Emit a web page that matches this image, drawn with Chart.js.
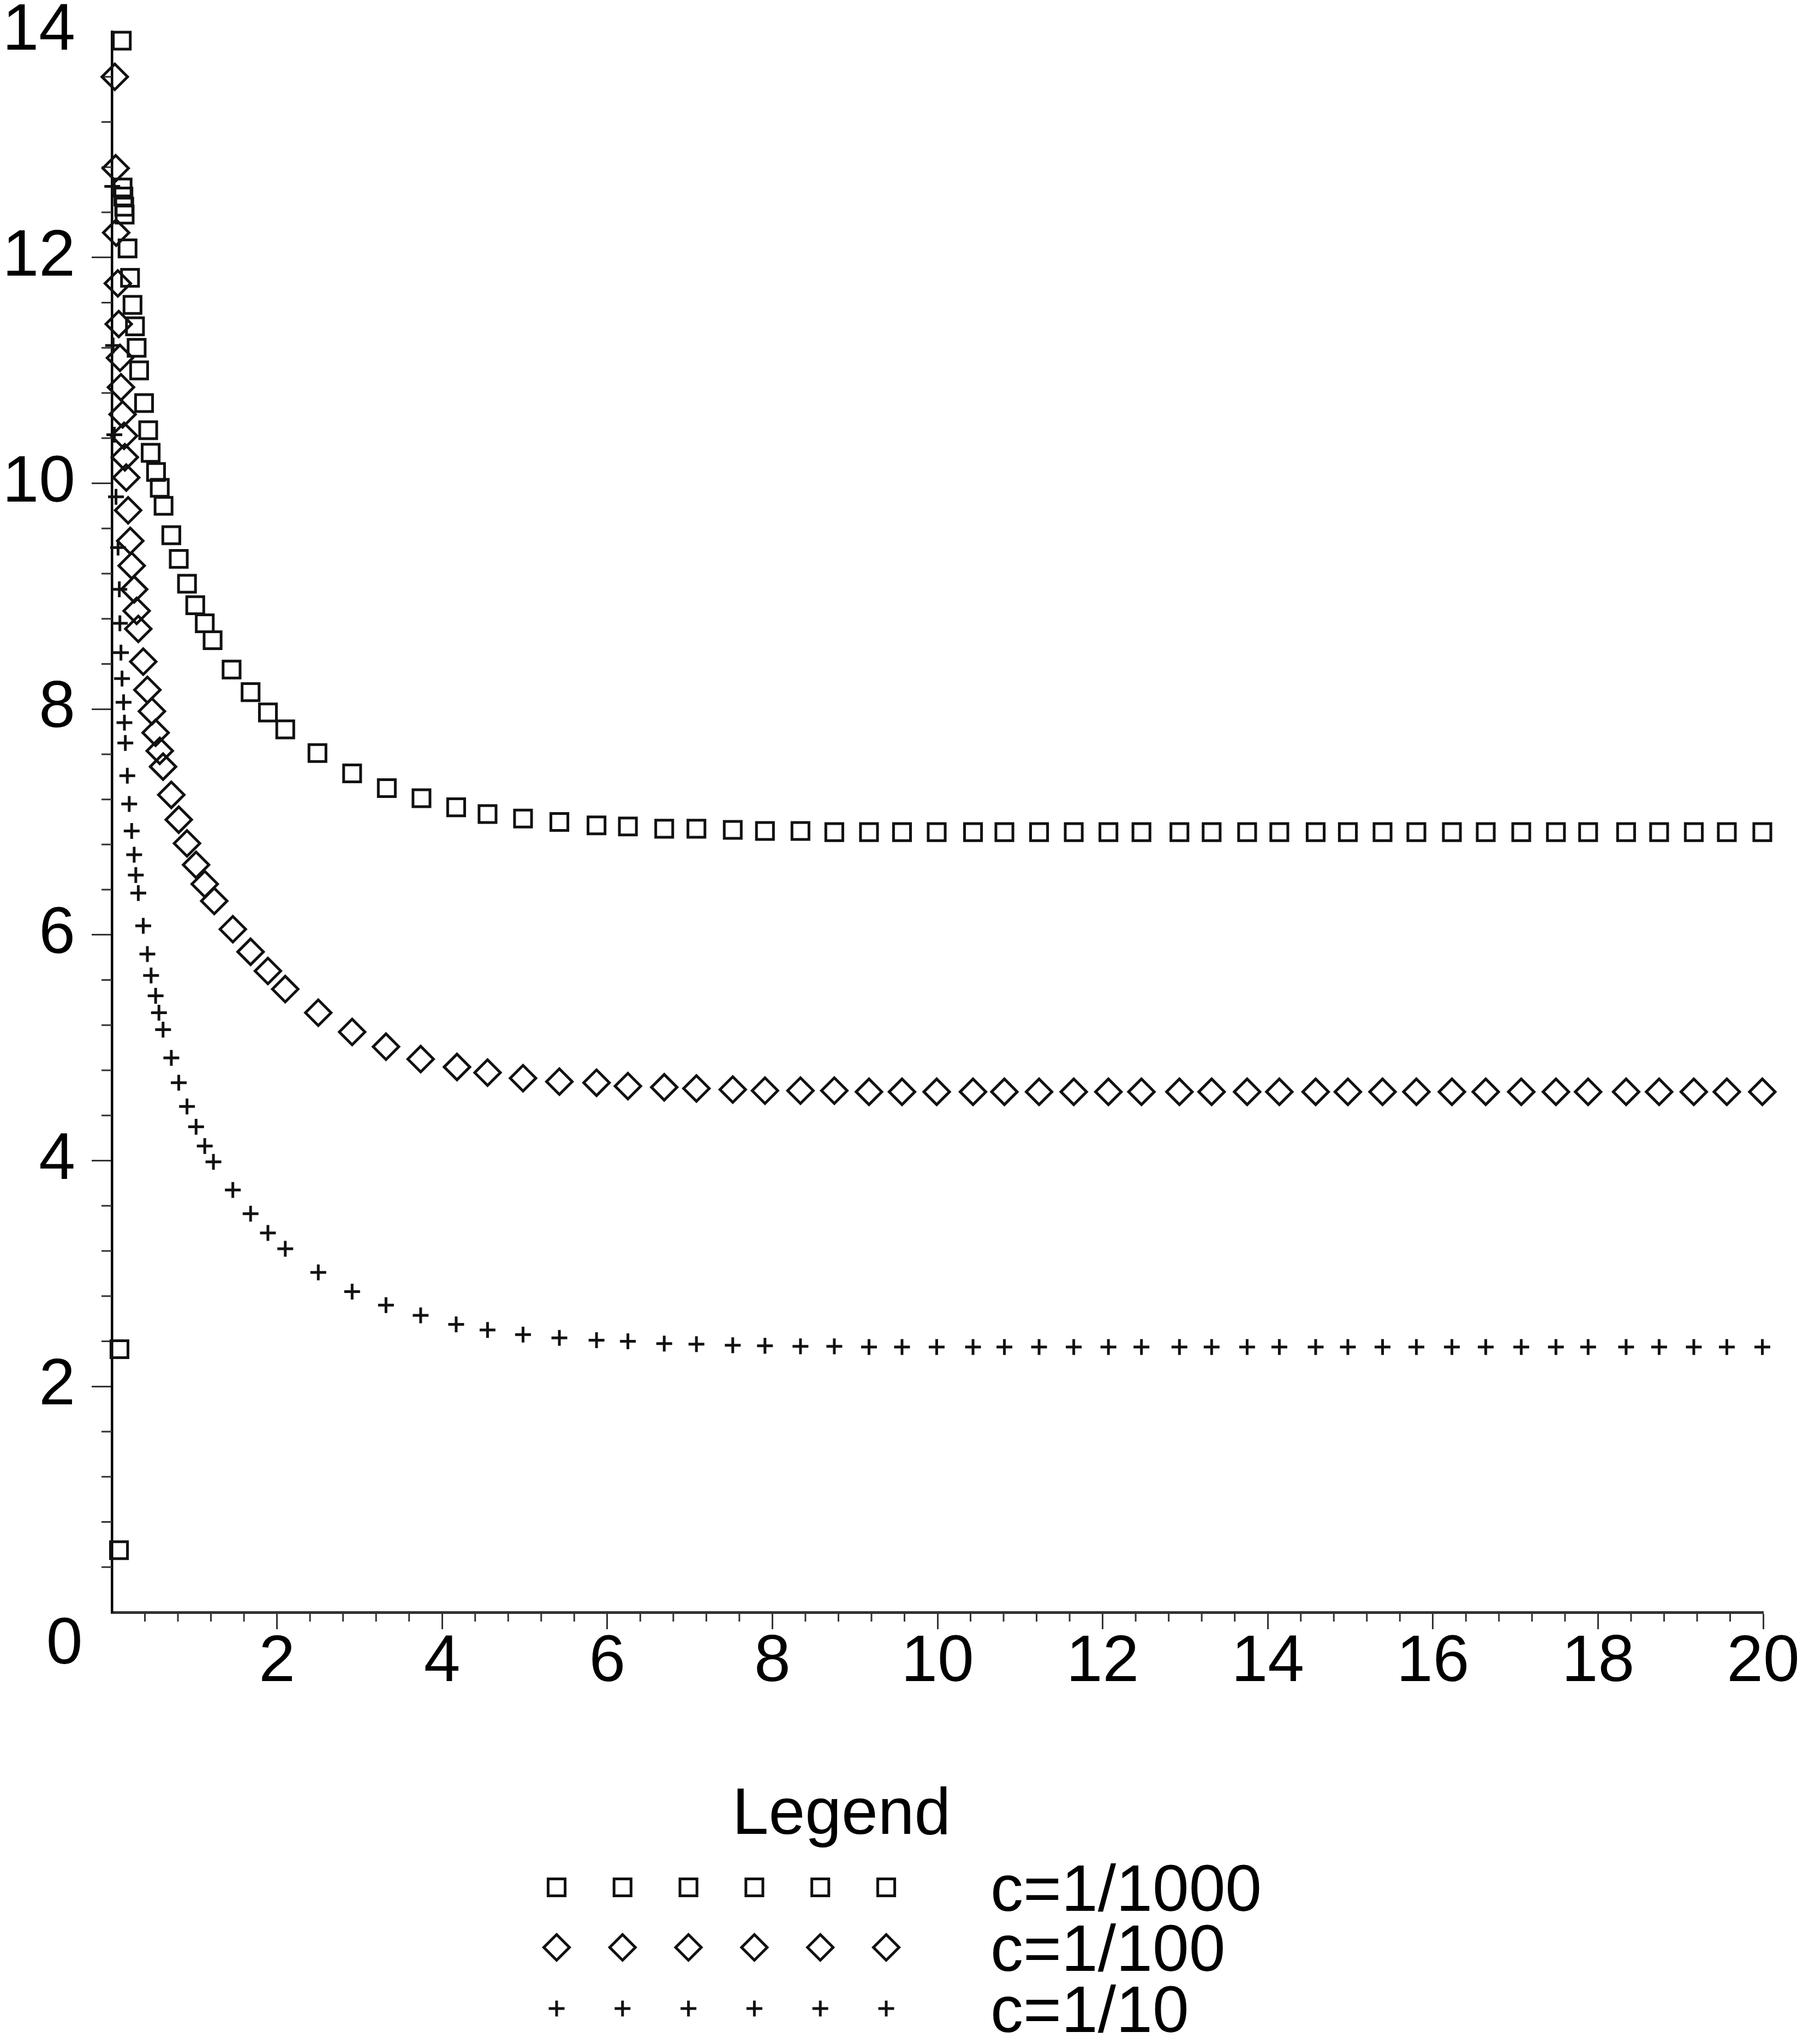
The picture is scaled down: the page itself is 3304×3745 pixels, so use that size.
<!DOCTYPE html>
<html>
<head>
<meta charset="utf-8">
<script src="https://cdn.jsdelivr.net/npm/chart.js@4.4.1/dist/chart.umd.min.js"></script>
<style>
  html, body { margin: 0; padding: 0; background: #ffffff; }
  canvas { display: block; }
</style>
</head>
<body>
<canvas id="chart" width="3304" height="3745" style="width:3304px;height:3745px"></canvas>
<script>
// ---------------- DATA ----------------
const seriesLabels = ['c=1/1000', 'c=1/100', 'c=1/10'];
const legendTitle = 'Legend';

// shared sample positions in the flat part of all three curves
const xTail = [5.87, 6.25, 6.69, 7.08, 7.52, 7.91, 8.34, 8.75, 9.17, 9.57,
               9.99, 10.43, 10.81, 11.23, 11.65, 12.07, 12.47, 12.93, 13.32, 13.75,
               14.14, 14.58, 14.97, 15.39, 15.80, 16.23, 16.64, 17.07, 17.49, 17.88,
               18.34, 18.74, 19.16, 19.56, 19.99];

// c = 1/1000  (squares)
const xHead1000 = [0.086, 0.092, 0.12, 0.13, 0.14, 0.15, 0.155, 0.19, 0.22, 0.25,
                   0.28, 0.30, 0.33, 0.39, 0.44, 0.47, 0.535, 0.58, 0.626, 0.72,
                   0.81, 0.91, 1.01, 1.125, 1.22, 1.45, 1.68, 1.89, 2.10, 2.49,
                   2.91, 3.33, 3.75, 4.17, 4.55, 4.98, 5.42];
const yHead1000 = [0.55, 2.33, 13.92, 12.62, 12.54, 12.45, 12.38, 12.08, 11.82, 11.58,
                   11.39, 11.20, 11.00, 10.71, 10.47, 10.27, 10.10, 9.96, 9.80, 9.54,
                   9.33, 9.11, 8.92, 8.76, 8.61, 8.35, 8.15, 7.97, 7.82, 7.61,
                   7.43, 7.30, 7.21, 7.13, 7.07, 7.03, 7.00];
const yTail1000 = [6.97, 6.96, 6.94, 6.94, 6.93, 6.92, 6.92, 6.91, 6.91, 6.91,
                   6.91, 6.91, 6.91, 6.91, 6.91, 6.91, 6.91, 6.91, 6.91, 6.91,
                   6.91, 6.91, 6.91, 6.91, 6.91, 6.91, 6.91, 6.91, 6.91, 6.91,
                   6.91, 6.91, 6.91, 6.91, 6.91];

// c = 1/100  (diamonds)
const xHead100 = [0.035, 0.046, 0.052, 0.072, 0.083, 0.098, 0.11, 0.13, 0.148, 0.157,
                  0.174, 0.197, 0.223, 0.24, 0.27, 0.30, 0.32, 0.38, 0.43, 0.485,
                  0.53, 0.58, 0.62, 0.72, 0.81, 0.91, 1.02, 1.125, 1.24, 1.465,
                  1.68, 1.89, 2.10, 2.50, 2.91, 3.32, 3.74, 4.18, 4.55, 4.98,
                  5.42];
const yHead100 = [13.60, 12.79, 12.22, 11.77, 11.41, 11.11, 10.85, 10.61, 10.42, 10.23,
                  10.05, 9.76, 9.49, 9.27, 9.06, 8.87, 8.71, 8.42, 8.17, 7.98,
                  7.79, 7.63, 7.49, 7.24, 7.02, 6.81, 6.62, 6.45, 6.30, 6.05,
                  5.85, 5.68, 5.52, 5.31, 5.14, 5.01, 4.90, 4.83, 4.78, 4.73,
                  4.70];
const yTail100 = [4.69, 4.66, 4.65, 4.64, 4.63, 4.62, 4.62, 4.62, 4.61, 4.61,
                  4.61, 4.61, 4.61, 4.61, 4.61, 4.61, 4.61, 4.61, 4.61, 4.61,
                  4.61, 4.61, 4.61, 4.61, 4.61, 4.61, 4.61, 4.61, 4.61, 4.61,
                  4.61, 4.61, 4.61, 4.61, 4.61];

// c = 1/10  (crosses)
const xHead10 = [0.005, 0.015, 0.03, 0.05, 0.075, 0.09, 0.097, 0.11, 0.123, 0.142,
                 0.152, 0.163, 0.187, 0.21, 0.24, 0.27, 0.29, 0.32, 0.38, 0.43,
                 0.475, 0.53, 0.57, 0.62, 0.72, 0.81, 0.91, 1.02, 1.125, 1.23,
                 1.465, 1.68, 1.89, 2.10, 2.50, 2.91, 3.32, 3.74, 4.17, 4.55,
                 4.98, 5.42];
const yHead10 = [12.63, 11.22, 10.43, 9.88, 9.43, 9.06, 8.76, 8.50, 8.27, 8.06,
                 7.88, 7.70, 7.41, 7.16, 6.92, 6.71, 6.53, 6.37, 6.08, 5.83,
                 5.64, 5.46, 5.31, 5.16, 4.91, 4.69, 4.48, 4.30, 4.13, 3.99,
                 3.74, 3.53, 3.36, 3.22, 3.01, 2.84, 2.72, 2.63, 2.55, 2.50,
                 2.46, 2.43];
const yTail10 = [2.41, 2.40, 2.38, 2.375, 2.365, 2.36, 2.355, 2.355, 2.35, 2.35,
                 2.35, 2.35, 2.35, 2.35, 2.35, 2.35, 2.35, 2.35, 2.35, 2.35,
                 2.35, 2.35, 2.35, 2.35, 2.35, 2.35, 2.35, 2.35, 2.35, 2.35,
                 2.35, 2.35, 2.35, 2.35, 2.35];

// axis ranges and tick steps
const xRange = [0, 20];
const yRange = [0, 14];
const majorStep = 2;
const minorStep = 0.4;

// ---------------- BUILD ----------------
const FONT = "'Liberation Sans', Arial, Helvetica, sans-serif";
Chart.defaults.font.family = FONT;
Chart.defaults.color = '#000';

function toPoints(xs, ys) { return xs.map((x, i) => ({ x: x, y: ys[i] })); }

const INK = '#111';
const markerStyles = [
  { pointStyle: 'rect',    radius: 22,   width: 5 },
  { pointStyle: 'rectRot', radius: 23.5, width: 5 },
  { pointStyle: 'cross',   radius: 14.5, width: 5 }
];
const seriesData = [
  toPoints(xHead1000.concat(xTail), yHead1000.concat(yTail1000)),
  toPoints(xHead100.concat(xTail),  yHead100.concat(yTail100)),
  toPoints(xHead10.concat(xTail),   yHead10.concat(yTail10))
];

const datasets = seriesLabels.map((lab, i) => ({
  label: lab,
  data: seriesData[i],
  showLine: false,
  clip: false,
  pointStyle: markerStyles[i].pointStyle,
  pointRadius: markerStyles[i].radius,
  pointHoverRadius: markerStyles[i].radius,
  pointBorderWidth: markerStyles[i].width,
  pointHoverBorderWidth: markerStyles[i].width,
  borderWidth: markerStyles[i].width,
  pointBorderColor: INK,
  borderColor: INK,
  pointBackgroundColor: 'rgba(0,0,0,0)',
  backgroundColor: 'rgba(0,0,0,0)'
}));

// layout constants (pixels)
const CANVAS_H = 3745;
const PAD = { left: 0, top: 58, right: 73, bottom: 500 };
const Y_AXIS_W = 205;
const X_AXIS_H = CANVAS_H - PAD.bottom - 2954;

const extras = {
  id: 'extras',
  beforeDatasetsDraw(chart) {
    const ctx = chart.ctx, xs = chart.scales.x, ys = chart.scales.y, ca = chart.chartArea;
    ctx.save();
    ctx.strokeStyle = '#333';
    ctx.lineWidth = 3;
    ctx.beginPath();
    const nY = Math.round((yRange[1] - yRange[0]) / minorStep);
    const every = Math.round(majorStep / minorStep);
    for (let k = 1; k < nY; k++) {
      if (k % every === 0) continue;
      const py = ys.getPixelForValue(yRange[0] + k * minorStep);
      ctx.moveTo(ca.left - 19, py); ctx.lineTo(ca.left, py);
    }
    const nX = Math.round((xRange[1] - xRange[0]) / minorStep);
    for (let k = 1; k < nX; k++) {
      if (k % every === 0) continue;
      const px = xs.getPixelForValue(xRange[0] + k * minorStep);
      ctx.moveTo(px, ca.bottom); ctx.lineTo(px, ca.bottom + 17);
    }
    ctx.stroke();
    // shared origin label
    ctx.fillStyle = '#000';
    ctx.font = '120px ' + FONT;
    ctx.textAlign = 'center';
    ctx.textBaseline = 'alphabetic';
    ctx.fillText('0', ca.left - 87, ys.getPixelForValue(0) + 94);
    ctx.restore();
  },
  afterDraw(chart) {
    const ctx = chart.ctx;
    ctx.save();
    ctx.fillStyle = '#000';
    ctx.font = '120px ' + FONT;
    ctx.textBaseline = 'alphabetic';
    ctx.textAlign = 'center';
    ctx.fillText(legendTitle, 1542, 3360);
    const rowY = [3458, 3568, 3680];
    const markerX0 = 1020, markerDx = 120.8, markerCount = 6;
    chart.data.datasets.forEach((ds, i) => {
      const y = rowY[i];
      ctx.strokeStyle = INK;
      ctx.fillStyle = 'rgba(0,0,0,0)';
      ctx.lineWidth = ds.pointBorderWidth;
      for (let m = 0; m < markerCount; m++) {
        Chart.helpers.drawPoint(ctx, {
          pointStyle: ds.pointStyle, radius: ds.pointRadius, rotation: 0,
          borderWidth: ds.pointBorderWidth
        }, markerX0 + m * markerDx, y);
      }
      ctx.fillStyle = '#000';
      ctx.textAlign = 'left';
      ctx.fillText(ds.label, 1815, y + 43);
    });
    ctx.restore();
  }
};

new Chart(document.getElementById('chart'), {
  type: 'scatter',
  data: { datasets: datasets },
  options: {
    responsive: false,
    devicePixelRatio: 1,
    animation: false,
    events: [],
    layout: { padding: PAD },
    plugins: { legend: { display: false }, tooltip: { enabled: false } },
    scales: {
      x: {
        type: 'linear', position: 'bottom', min: xRange[0], max: xRange[1],
        afterFit: (s) => { s.height = X_AXIS_H; s.paddingLeft = 0; s.paddingRight = 0; },
        ticks: {
          stepSize: majorStep, autoSkip: false, maxRotation: 0, padding: 2,
          font: { size: 120, lineHeight: 1 }, color: '#000',
          callback: (v) => (v === 0 ? '' : String(v))
        },
        grid: {
          drawOnChartArea: false, drawTicks: true, tickLength: 31, tickWidth: 3,
          tickColor: (c) => (c.tick && c.tick.value === 0 ? 'rgba(0,0,0,0)' : '#333')
        },
        border: { display: true, color: '#333', width: 5 }
      },
      y: {
        type: 'linear', position: 'left', min: yRange[0], max: yRange[1],
        afterFit: (s) => { s.width = Y_AXIS_W; s.paddingTop = 0; s.paddingBottom = 0; },
        ticks: {
          stepSize: majorStep, autoSkip: false, padding: 30,
          font: { size: 120 }, color: '#000',
          callback: (v) => (v === 0 ? '' : String(v))
        },
        grid: {
          drawOnChartArea: false, drawTicks: true, tickLength: 37, tickWidth: 3,
          tickColor: (c) => (c.tick && (c.tick.value === 0 || c.tick.value === 14) ? 'rgba(0,0,0,0)' : '#333')
        },
        border: { display: true, color: '#000', width: 4.5 }
      }
    }
  },
  plugins: [extras]
});
</script>
</body>
</html>
